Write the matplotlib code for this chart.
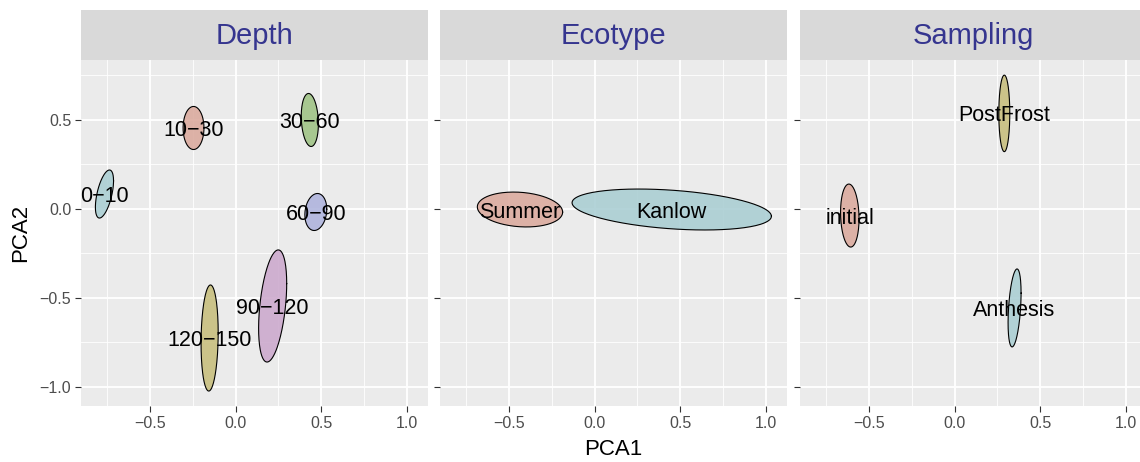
import numpy as np
import matplotlib.pyplot as plt

plt.rcParams['font.family'] = ['Liberation Sans', 'DejaVu Sans']

# панели и группы
panels = ['Depth', 'Ecotype', 'Sampling']

depth_groups = ['0\u221210', '10\u221230', '30\u221260', '60\u221290', '90\u2212120', '120\u2212150']
depth_cx = [-0.766, -0.246, 0.433, 0.468, 0.216, -0.152]
depth_cy = [0.084, 0.455, 0.50, -0.017, -0.545, -0.725]
depth_sx = [0.053, 0.061, 0.050, 0.064, 0.082, 0.050]
depth_sy = [0.135, 0.121, 0.149, 0.104, 0.315, 0.298]
depth_rho = [0.55, 0.0, -0.15, 0.15, 0.4, 0.1]
depth_col = ['#a9ced3', '#dba99d', '#9ec384', '#aeb3dd', '#cca8cd', '#c7be7c']

eco_groups = ['Summer', 'Kanlow']
eco_cx = [-0.436, 0.45]
eco_cy = [-0.003, -0.003]
eco_sx = [0.249, 0.582]
eco_sy = [0.098, 0.115]
eco_rho = [-0.15, -0.33]
eco_col = ['#dba99d', '#a9ced3']

samp_groups = ['initial', 'PostFrost', 'Anthesis']
samp_cx = [-0.612, 0.291, 0.351]
samp_cy = [-0.037, 0.537, -0.556]
samp_sx = [0.054, 0.032, 0.038]
samp_sy = [0.177, 0.215, 0.219]
samp_rho = [-0.1, 0.0, 0.38]
samp_col = ['#dba99d', '#c7be7c', '#a9ced3']

data = [
    (depth_groups, depth_cx, depth_cy, depth_sx, depth_sy, depth_rho, depth_col),
    (eco_groups, eco_cx, eco_cy, eco_sx, eco_sy, eco_rho, eco_col),
    (samp_groups, samp_cx, samp_cy, samp_sx, samp_sy, samp_rho, samp_col),
]

W, H = 1140, 462
fig = plt.figure(figsize=(W / 100, H / 100), dpi=100)

lefts = [81, 440, 800]
rights = [428, 787, 1140]
top, strip_top, bottom = 60, 10, 406
x_right = [1.123, 1.123, 1.084]

t = np.linspace(0, 2 * np.pi, 200)

for i, name in enumerate(panels):
    l, r = lefts[i], rights[i]
    ax = fig.add_axes([l / W, 1 - bottom / H, (r - l) / W, (bottom - top) / H])
    ax.set_facecolor('#ebebeb')
    ax.set_xlim(-0.903, x_right[i])
    ax.set_ylim(-1.107, 0.837)
    ax.set_xticks([-0.5, 0.0, 0.5, 1.0])
    ax.set_xticks([-0.75, -0.25, 0.25, 0.75], minor=True)
    ax.set_yticks([-1.0, -0.5, 0.0, 0.5])
    ax.set_yticks([-0.75, -0.25, 0.25, 0.75], minor=True)
    ax.grid(True, which='major', color='white', lw=1.3)
    ax.grid(True, which='minor', color='white', lw=0.6)
    ax.set_axisbelow(True)
    for s in ax.spines.values():
        s.set_visible(False)
    ax.tick_params(which='major', length=4, width=0.8, color='#333333',
                   labelsize=11.5, labelcolor='#4d4d4d', pad=3)
    ax.tick_params(which='minor', length=0)
    ax.set_xticklabels(['\u22120.5', '0.0', '0.5', '1.0'])
    if i == 0:
        ax.set_yticklabels(['\u22121.0', '\u22120.5', '0.0', '0.5'])
        ax.set_ylabel('PCA2', fontsize=16, labelpad=6)
    else:
        ax.tick_params(axis='y', labelleft=False)
    if i == 1:
        ax.set_xlabel('PCA1', fontsize=16, labelpad=6)

    groups, cx, cy, sx, sy, rho, col = data[i]
    for g, x0, y0, a, b, p, c in zip(groups, cx, cy, sx, sy, rho, col):
        xs = x0 + a * np.cos(t)
        ys = y0 + b * (p * np.cos(t) + np.sqrt(1 - p ** 2) * np.sin(t))
        ax.fill(xs, ys, facecolor=c, alpha=0.88, edgecolor='none', zorder=2)
        ax.plot(xs, ys, color='black', lw=0.8, zorder=3)
        ax.text(x0, y0, g, fontsize=15.5, ha='center', va='center_baseline', zorder=4)

    # полоса с заголовком
    sax = fig.add_axes([l / W, 1 - top / H, (r - l) / W, (top - strip_top) / H])
    sax.set_facecolor('#d9d9d9')
    sax.set_xticks([])
    sax.set_yticks([])
    for s in sax.spines.values():
        s.set_visible(False)
    sax.text(0.5 * 347 / (r - l), 0.48, name, transform=sax.transAxes,
             fontsize=21, color='#35358f', ha='center', va='center')

fig.savefig('out.png', dpi=100)
